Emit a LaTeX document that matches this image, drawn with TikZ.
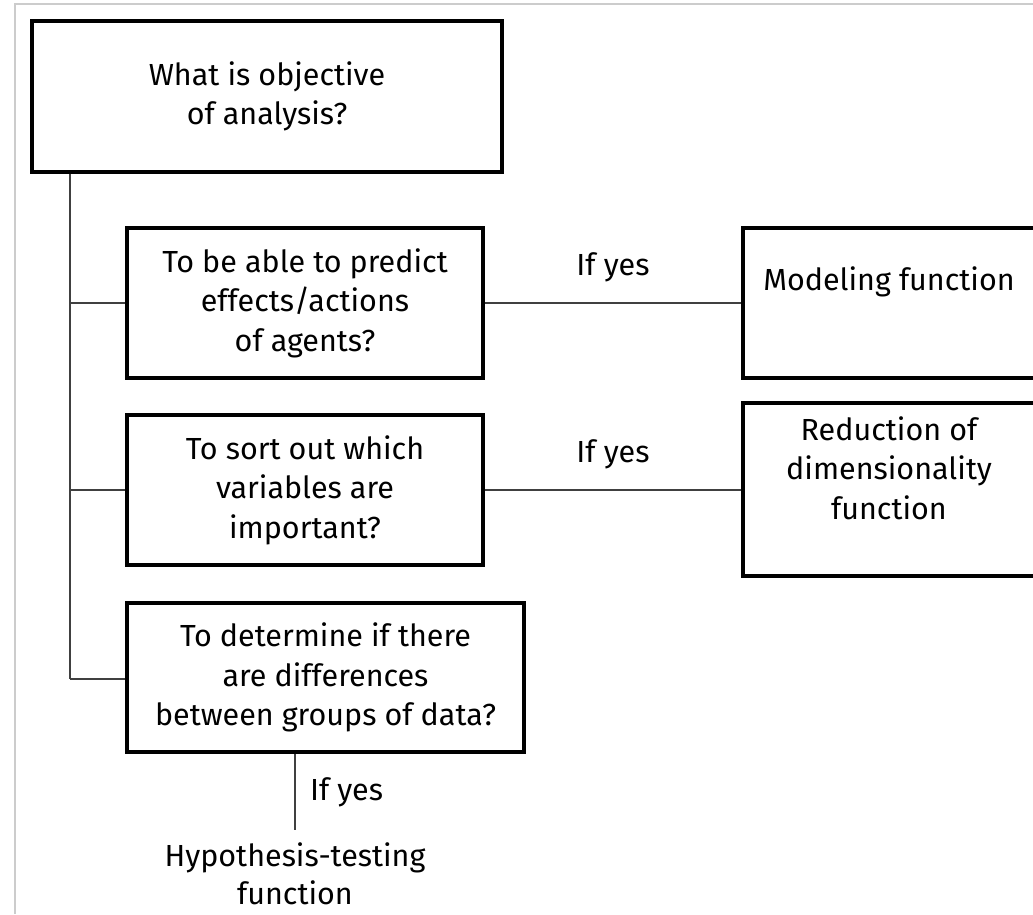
\documentclass[tikz,border=0pt]{standalone}
\usepackage{fontspec}
\setmainfont{Fira Sans}
\begin{document}
\begin{tikzpicture}[x=1pt,y=-1pt,
  box/.style={draw=black,line width=3.5pt,minimum width=#1,inner sep=0pt,align=center,font=\fontsize{30.5}{39.5}\selectfont},
  lbl/.style={inner sep=0pt,align=center,font=\fontsize{30.5}{39.5}\selectfont},
  conn/.style={draw=black!75,line width=2pt}]
\useasboundingbox (0,0) rectangle (1033,914);
\clip (0,0) rectangle (1033,914);
\fill[white] (0,0) rectangle (1033,914);
\draw[black!20,line width=1.5pt] (15,914) -- (15,4) -- (1033,4);
% boxes
\node[box=470pt,minimum height=151pt] (top) at (267,96.5) {What is objective\\of analysis?};
\node[box=356pt,minimum height=150pt] (pred) at (305,303) {To be able to predict\\effects/actions\\of agents?};
\node[box=356pt,minimum height=150pt] (sort) at (305,490) {To sort out which\\variables are\\important?};
\node[box=397pt,minimum height=149pt] (diff) at (325.5,677.5) {To determine if there\\are differences\\between groups of data?};
\node[box=297pt,minimum height=150pt] (model) at (891.5,303) {};
\node[lbl] (modelt) at (889,282) {Modeling function};
\node[box=297pt,minimum height=173pt] (red) at (891.5,489.5) {};
\node[lbl] (redt) at (889,468) {Reduction of\\dimensionality\\function};
\node[lbl,font=\fontsize{30.5}{38}\selectfont] (hyp) at (295,874) {Hypothesis-testing\\function};
% connectors
\coordinate (trunkend) at (70,679);
\draw[conn] (top.south -| trunkend) -- (trunkend);
\draw[conn] (pred.west -| trunkend) -- (pred.west);
\draw[conn] (sort.west -| trunkend) -- (sort.west);
\draw[conn] (trunkend) -- (diff.west |- trunkend);
\draw[conn] (pred.east) -- node[lbl,above=20pt] (y1) {If yes} (model.west |- pred.east);
\draw[conn] (sort.east) -- node[lbl,above=20pt] (y2) {If yes} (red.west |- sort.east);
\coordinate (hypend) at (295,830);
\draw[conn] (diff.south -| hypend) -- node[lbl,right=14pt] (y3) {If yes} (hypend);
\end{tikzpicture}
\end{document}
